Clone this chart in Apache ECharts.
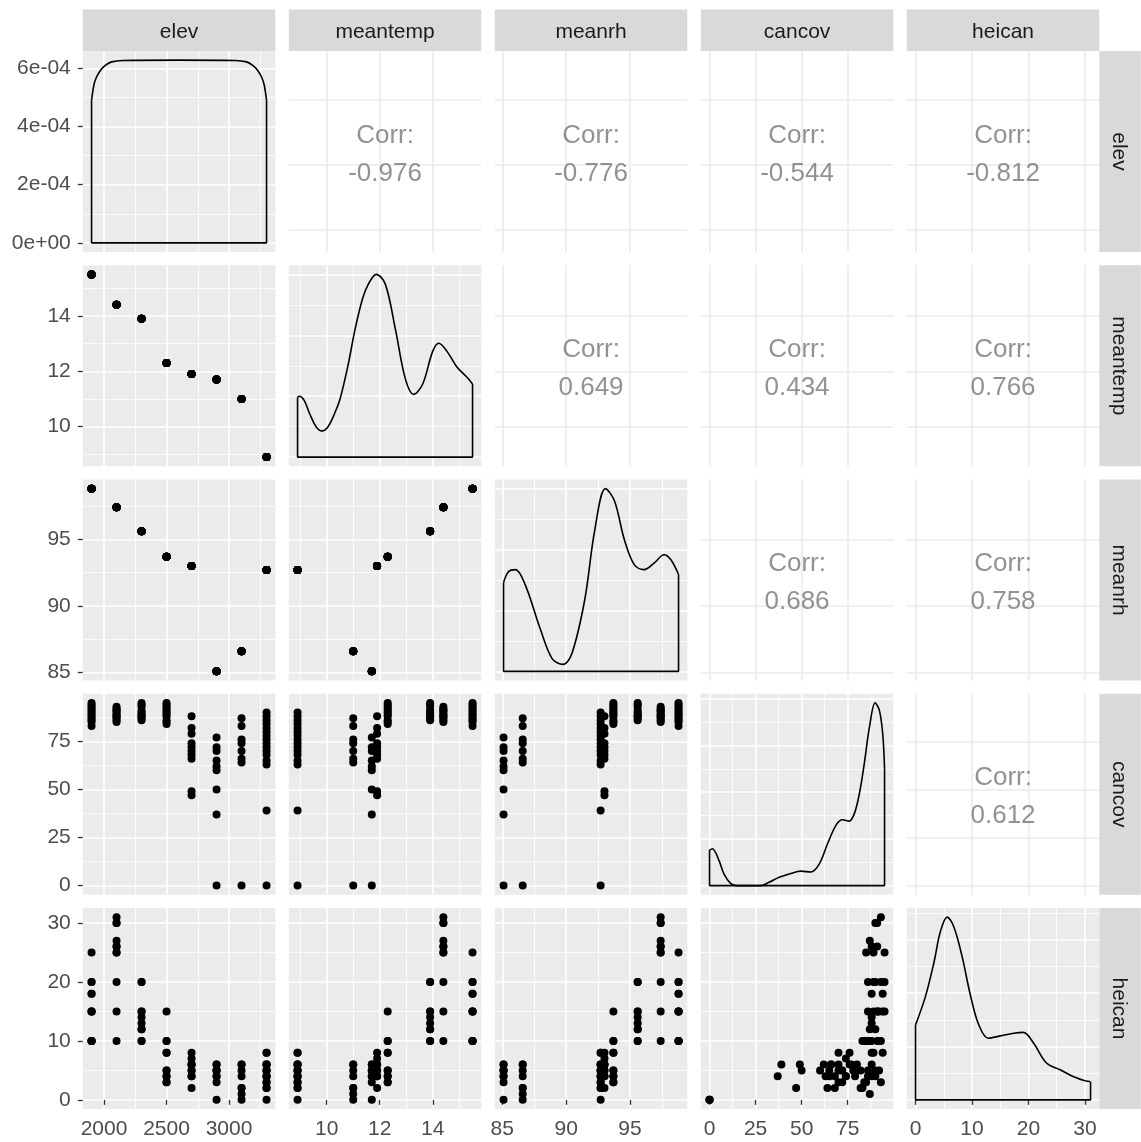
<!DOCTYPE html>
<html>
<head>
<meta charset="utf-8">
<script src="https://cdn.jsdelivr.net/npm/echarts@6/dist/echarts.min.js"></script>
<style>
  html, body { margin: 0; padding: 0; background: #ffffff; }
  #chart { width: 1141px; height: 1142px; }
</style>
</head>
<body>
<div id="chart"></div>
<script>
// ---- data -------------------------------------------------------------
const varNames = ['elev', 'meantemp', 'meanrh', 'cancov', 'heican'];

// one value per site
const siteElev = [1900, 2100, 2300, 2500, 2700, 2900, 3100, 3300];
const siteMeantemp = [15.5, 14.4, 13.9, 12.3, 11.9, 11.7, 11.0, 8.9];
const siteMeanrh = [98.8, 97.4, 95.6, 93.7, 93.0, 85.1, 86.6, 92.7];

// plot-level measurements, grouped by site (same order as above)
const cancovBySite = [
  [95, 93, 90, 94, 88, 91, 86, 89, 92, 87, 85, 83],
  [93, 91, 90, 87, 91, 88, 85, 89, 86, 92, 88],
  [95, 94, 88, 88, 87, 90, 93, 86, 89, 91],
  [95, 84, 94, 92, 86, 90, 88, 93, 85, 89, 91],
  [88, 82, 79, 74, 72, 70, 68, 66, 49, 47],
  [77, 72, 70, 65, 62, 60, 50, 37, 0],
  [87, 83, 76, 74, 70, 66, 64, 0],
  [90, 88, 86, 84, 82, 80, 78, 76, 74, 72, 70, 68, 65, 63, 39, 0]
];
const heicanBySite = [
  [25, 20, 20, 18, 18, 15, 15, 15, 10, 10, 10, 10],
  [31, 30, 30, 27, 26, 26, 25, 25, 20, 15, 10],
  [20, 15, 14, 13, 12, 12, 10, 10, 20, 15],
  [15, 10, 8, 5, 5, 4, 4, 3, 3, 8, 10],
  [6, 5, 4, 7, 5, 8, 4, 6, 6, 2],
  [6, 5, 3, 4, 6, 5, 5, 4, 0],
  [1, 2, 6, 4, 5, 6, 2, 0],
  [5, 8, 4, 3, 2, 6, 5, 8, 4, 3, 6, 2, 5, 4, 6, 0]
];

// kernel density estimates for the diagonal, [value, density]
const densElev = [[1900, 4.9e-4], [1920, 5.45e-4], [1940, 5.7e-4], [1975, 5.95e-4], [2010, 6.1e-4],
  [2060, 6.22e-4], [2150, 6.27e-4], [2600, 6.28e-4], [3050, 6.27e-4], [3140, 6.22e-4],
  [3190, 6.1e-4], [3225, 5.95e-4], [3260, 5.7e-4], [3280, 5.45e-4], [3300, 4.9e-4]];
const densMeantemp = [[8.9, 0.098], [8.97, 0.1], [9.15, 0.093], [9.37, 0.07], [9.6, 0.05], [9.82, 0.043],
  [10.05, 0.05], [10.3, 0.072], [10.5, 0.095], [10.8, 0.15], [11.07, 0.21], [11.35, 0.26], [11.57, 0.284],
  [11.87, 0.3], [12.21, 0.284], [12.59, 0.21], [12.97, 0.128], [13.28, 0.103], [13.62, 0.12],
  [14.0, 0.174], [14.23, 0.187], [14.53, 0.174], [14.91, 0.148], [15.29, 0.131], [15.5, 0.12]];
const densMeanrh = [[85.1, 0.073], [85.5, 0.082], [86.03, 0.0835], [86.8, 0.071], [87.97, 0.035],
  [88.9, 0.0105], [89.75, 0.0057], [90.45, 0.0146], [91.46, 0.059], [92.24, 0.116], [93.08, 0.15],
  [93.78, 0.14], [94.56, 0.108], [95.33, 0.0876], [96.1, 0.0835], [96.9, 0.089], [97.66, 0.0957],
  [98.2, 0.0916], [98.8, 0.0795]];
const densCancov = [[0, 0.0076], [1.5, 0.0079], [5.1, 0.0054], [7.8, 0.0025], [11.4, 0.0005], [15, 0],
  [27.8, 0], [32.3, 0.0007], [37.8, 0.0018], [44.1, 0.0026], [49.5, 0.0031], [55, 0.0029],
  [59.5, 0.0046], [64, 0.0089], [68.6, 0.0129], [72.2, 0.0141], [75.8, 0.0138], [78.6, 0.0154],
  [81.3, 0.0196], [84, 0.0261], [86.8, 0.0339], [89.9, 0.0391], [92.2, 0.0375], [94, 0.0325], [95, 0.025]];
const densHeican = [[0, 0.0281], [1.76, 0.0388], [3.24, 0.0513], [4.4, 0.0631], [5.6, 0.0685],
  [6.76, 0.065], [8.24, 0.0538], [9.7, 0.0394], [11.2, 0.0281], [12.9, 0.0231], [15, 0.024],
  [17.4, 0.025], [19.1, 0.0253], [20.9, 0.0213], [23.2, 0.0138], [25.6, 0.0113], [27.9, 0.0088],
  [30.9, 0.0069], [31, 0.0069]];

// printed correlations: [row, col, text]
const corrLabels = [
  [0, 1, '-0.976'], [0, 2, '-0.776'], [0, 3, '-0.544'], [0, 4, '-0.812'],
  [1, 2, '0.649'], [1, 3, '0.434'], [1, 4, '0.766'],
  [2, 3, '0.686'], [2, 4, '0.758'],
  [3, 4, '0.612']
];

// axis breaks
const majorBreaks = {
  elev: [2000, 2500, 3000], meantemp: [10, 12, 14], meanrh: [85, 90, 95],
  cancov: [0, 25, 50, 75], heican: [0, 10, 20, 30]
};
const minorBreaks = {
  elev: [2250, 2750, 3250], meantemp: [9, 11, 13, 15], meanrh: [87.5, 92.5, 97.5],
  cancov: [12.5, 37.5, 62.5, 87.5], heican: [5, 15, 25]
};
const densityMajor = {
  elev: [0, 2e-4, 4e-4, 6e-4], meantemp: [0, 0.1, 0.2, 0.3], meanrh: [0, 0.05, 0.1, 0.15],
  cancov: [0, 0.01, 0.02, 0.03, 0.04], heican: [0, 0.02, 0.04, 0.06]
};
const densityMinor = {
  elev: [1e-4, 3e-4, 5e-4], meantemp: [0.05, 0.15, 0.25], meanrh: [0.025, 0.075, 0.125],
  cancov: [0.005, 0.015, 0.025, 0.035], heican: [0.01, 0.03, 0.05, 0.07]
};

// ---- derived tables ---------------------------------------------------
const densityCurves = {
  elev: densElev, meantemp: densMeantemp, meanrh: densMeanrh, cancov: densCancov, heican: densHeican
};
const obs = { elev: [], meantemp: [], meanrh: [], cancov: [], heican: [] };
siteElev.forEach((e, i) => {
  cancovBySite[i].forEach((cv, j) => {
    obs.elev.push(e);
    obs.meantemp.push(siteMeantemp[i]);
    obs.meanrh.push(siteMeanrh[i]);
    obs.cancov.push(cv);
    obs.heican.push(heicanBySite[i][j]);
  });
});

function expand(lo, hi) { const s = (hi - lo) * 0.05; return [lo - s, hi + s]; }
const dataRange = {}, densityRange = {};
varNames.forEach(v => {
  dataRange[v] = expand(Math.min(...obs[v]), Math.max(...obs[v]));
  densityRange[v] = expand(0, Math.max(...densityCurves[v].map(p => p[1])));
});

function sci(v) {
  if (v === 0) return '0e+00';
  const e = Math.floor(Math.log10(Math.abs(v)) + 1e-9);
  const m = Math.round(v / Math.pow(10, e));
  return m + 'e' + (e < 0 ? '-' : '+') + String(Math.abs(e)).padStart(2, '0');
}

// ---- layout -----------------------------------------------------------
const FONT = '"Liberation Sans", Arial, Helvetica, sans-serif';
const PANEL_L = 82.8, PANEL_T = 51, PANEL_W = 192.5, PANEL_H = 201;
const PITCH_X = 206, PITCH_Y = 214.25;
const STRIP = 41.5;

const grids = [], xAxes = [], yAxes = [], series = [], graphics = [];

function axisDef(dim, gi, range, values, o) {
  return {
    type: 'value', gridIndex: gi, min: range[0], max: range[1],
    position: dim === 'x' ? 'bottom' : 'left',
    axisLine: { show: false },
    axisTick: {
      show: !!o.labels, length: 5, customValues: values,
      lineStyle: { color: '#333333', width: 1.3 }
    },
    axisLabel: {
      show: !!o.labels, customValues: values, margin: dim === 'x' ? 10 : 12,
      fontSize: 21, color: '#4d4d4d', fontFamily: FONT,
      formatter: o.formatter || (v => String(v))
    },
    splitLine: { show: true, lineStyle: { color: o.lineColor, width: o.lineWidth } },
    minorTick: { show: false }, minorSplitLine: { show: false }
  };
}

for (let r = 0; r < 5; r++) {
  for (let c = 0; c < 5; c++) {
    const gi = grids.length;
    const kind = r === c ? 'diag' : (r > c ? 'lower' : 'upper');
    const vx = varNames[c], vy = varNames[r];
    grids.push({
      left: PANEL_L + c * PITCH_X, top: PANEL_T + r * PITCH_Y,
      width: PANEL_W, height: PANEL_H,
      show: true, borderWidth: 0,
      backgroundColor: kind === 'upper' ? '#ffffff' : '#ebebeb',
      containLabel: false, outerBoundsMode: 'none'
    });
    const lineColor = kind === 'upper' ? '#ebebeb' : '#ffffff';
    const xr = dataRange[vx];
    const yr = kind === 'diag' ? densityRange[vy] : dataRange[vy];
    const yMajor = kind === 'diag' ? densityMajor[vy] : majorBreaks[vy];
    const yMinor = kind === 'diag' ? densityMinor[vy] : minorBreaks[vy];

    // minor grid lines first so the major ones sit on top
    if (kind !== 'upper') {
      xAxes.push(axisDef('x', gi, xr, minorBreaks[vx], { lineColor, lineWidth: 0.8 }));
      yAxes.push(axisDef('y', gi, yr, yMinor, { lineColor, lineWidth: 0.8 }));
    }
    const xi = xAxes.length, yi = yAxes.length;
    xAxes.push(axisDef('x', gi, xr, majorBreaks[vx], {
      lineColor, lineWidth: 1.6, labels: r === 4
    }));
    yAxes.push(axisDef('y', gi, yr, yMajor, {
      lineColor, lineWidth: 1.6, labels: c === 0,
      formatter: (kind === 'diag' && vy === 'elev') ? sci : null
    }));

    if (kind === 'lower') {
      series.push({
        type: 'scatter', xAxisIndex: xi, yAxisIndex: yi,
        data: obs[vx].map((v, k) => [v, obs[vy][k]]),
        symbolSize: 8, itemStyle: { color: '#000000', opacity: 1 }, silent: true
      });
    } else if (kind === 'diag') {
      const curve = densityCurves[vx];
      const first = curve[0], last = curve[curve.length - 1];
      series.push({
        type: 'line', xAxisIndex: xi, yAxisIndex: yi, data: curve,
        smooth: 0.35, showSymbol: false, silent: true,
        lineStyle: { color: '#000000', width: 1.6 }
      });
      series.push({
        type: 'line', xAxisIndex: xi, yAxisIndex: yi,
        data: [[last[0], last[1]], [last[0], 0], [first[0], 0], [first[0], first[1]]],
        showSymbol: false, silent: true,
        lineStyle: { color: '#000000', width: 1.6 }
      });
    } else {
      const entry = corrLabels.find(e => e[0] === r && e[1] === c);
      series.push({
        type: 'scatter', xAxisIndex: xi, yAxisIndex: yi,
        data: [[(xr[0] + xr[1]) / 2, (yr[0] + yr[1]) / 2]],
        symbolSize: 0, silent: true,
        label: {
          show: true, position: 'inside', offset: [0, 3], formatter: 'Corr:\n' + entry[2],
          fontSize: 26, lineHeight: 38, color: '#777777', fontFamily: FONT, align: 'center'
        }
      });
    }
  }
}

// facet strips
varNames.forEach((name, i) => {
  const x = PANEL_L + i * PITCH_X;
  graphics.push({
    type: 'rect', shape: { x: x, y: PANEL_T - STRIP, width: PANEL_W, height: STRIP },
    style: { fill: '#d9d9d9' }, silent: true
  });
  graphics.push({
    type: 'text', x: x + PANEL_W / 2, y: PANEL_T - STRIP / 2 + 1.5,
    style: { text: name, fontSize: 21, fill: '#1a1a1a', fontFamily: FONT, align: 'center', verticalAlign: 'middle' },
    silent: true
  });
  const y = PANEL_T + i * PITCH_Y;
  const sx = PANEL_L + 4 * PITCH_X + PANEL_W;
  graphics.push({
    type: 'rect', shape: { x: sx, y: y, width: STRIP, height: PANEL_H },
    style: { fill: '#d9d9d9' }, silent: true
  });
  graphics.push({
    type: 'text', x: sx + STRIP / 2 - 1.5, y: y + PANEL_H / 2, rotation: -Math.PI / 2,
    style: { text: name, fontSize: 21, fill: '#1a1a1a', fontFamily: FONT, align: 'center', verticalAlign: 'middle' },
    silent: true
  });
});

const chart = echarts.init(document.getElementById('chart'), null, { renderer: 'canvas' });
chart.setOption({
  backgroundColor: '#ffffff',
  animation: false,
  grid: grids,
  xAxis: xAxes,
  yAxis: yAxes,
  series: series,
  graphic: graphics
});
</script>
</body>
</html>
